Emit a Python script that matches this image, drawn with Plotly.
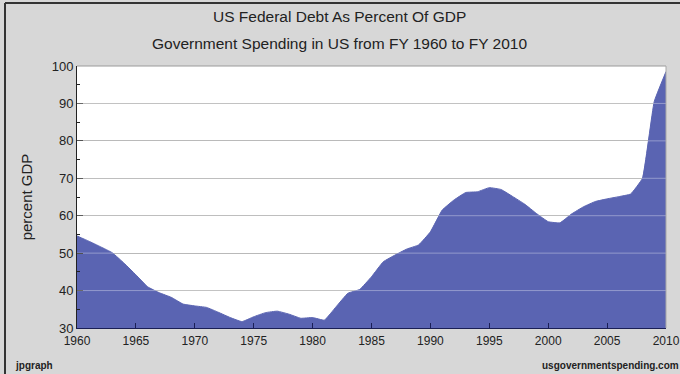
import plotly.graph_objects as go

# Gross federal debt as a share of GDP, fiscal years 1960-2010
years = list(range(1960, 2011))
debt_pct = [
    54.6, 53.2, 51.7, 50.1, 47.3, 44.2, 41.0, 39.4, 38.2, 36.4,
    35.9, 35.5, 34.2, 32.8, 31.7, 33.0, 34.1, 34.5, 33.7, 32.6,
    32.8, 32.1, 35.7, 39.3, 40.3, 43.7, 47.7, 49.5, 51.1, 52.2,
    55.7, 61.5, 64.2, 66.2, 66.4, 67.5, 67.0, 65.1, 63.1, 60.6,
    58.4, 58.1, 60.5, 62.4, 63.8, 64.5, 65.1, 65.8, 70.0, 90.5,
    98.5,
]

x_ticks = list(range(1960, 2011, 5))
y_ticks = list(range(30, 101, 10))

title_lines = ["US Federal Debt As Percent Of GDP",
               "Government Spending in US from FY 1960 to FY 2010"]

FILL = "#5a64b2"
BG = "#d7d7d7"
FONT = "Liberation Sans, Arial, sans-serif"

W, H = 680, 374
M = dict(l=77, r=14, t=66, b=46)
PW = W - M["l"] - M["r"]
PH = H - M["t"] - M["b"]


def px_x(p):
    """Horizontal page pixel -> paper fraction."""
    return (p - M["l"]) / PW


def px_y(p):
    """Vertical page pixel (from top) -> paper fraction."""
    return (H - M["b"] - p) / PH


fig = go.Figure()
fig.add_trace(go.Scatter(
    x=years, y=debt_pct, mode="lines",
    line=dict(color=FILL, width=1, shape="spline", smoothing=0.3),
    fill="tozeroy", fillcolor=FILL, hoverinfo="x+y",
))

shapes = []
# light overlay of the grid so it shows through the filled area
for v in y_ticks[1:-1]:
    shapes.append(dict(type="line", xref="paper", yref="y", x0=0, x1=1, y0=v, y1=v,
                       line=dict(color="rgba(255,255,255,0.35)", width=1), layer="above"))
# plot frame (top and right)
shapes.append(dict(type="line", xref="paper", yref="paper", x0=0, x1=1, y0=1, y1=1,
                   line=dict(color="#9a9a9a", width=1), layer="above"))
shapes.append(dict(type="line", xref="paper", yref="paper", x0=1, x1=1, y0=0, y1=1,
                   line=dict(color="#a8a8a8", width=1), layer="above"))
# outer figure border (left and top)
shapes.append(dict(type="line", xref="paper", yref="paper", x0=px_x(5), x1=px_x(5),
                   y0=px_y(H + 5), y1=px_y(3), line=dict(color="#333333", width=2), layer="above"))
shapes.append(dict(type="line", xref="paper", yref="paper", x0=px_x(5), x1=px_x(W + 5),
                   y0=px_y(3), y1=px_y(3), line=dict(color="#333333", width=2), layer="above"))

annotations = [
    dict(text=title_lines[0], xref="paper", yref="paper", x=px_x(339), y=px_y(17),
         xanchor="center", yanchor="middle", showarrow=False,
         font=dict(family=FONT, size=15.5, color="#222222")),
    dict(text=title_lines[1], xref="paper", yref="paper", x=px_x(339), y=px_y(43),
         xanchor="center", yanchor="middle", showarrow=False,
         font=dict(family=FONT, size=15.5, color="#222222")),
    dict(text="<b>jpgraph</b>", xref="paper", yref="paper", x=px_x(13), y=px_y(365),
         xanchor="left", yanchor="middle", showarrow=False,
         font=dict(family=FONT, size=10, color="#222222")),
    dict(text="<b>usgovernmentspending.com</b>", xref="paper", yref="paper", x=px_x(681), y=px_y(365),
         xanchor="right", yanchor="middle", showarrow=False,
         font=dict(family=FONT, size=10, color="#222222")),
]

fig.update_layout(
    width=W, height=H,
    margin=dict(**M, autoexpand=False),
    paper_bgcolor=BG, plot_bgcolor="white",
    showlegend=False,
    shapes=shapes, annotations=annotations,
    font=dict(family=FONT, size=13, color="#222222"),
    xaxis=dict(
        range=[1960, 2010], tickvals=x_ticks, ticktext=[str(t) for t in x_ticks],
        ticks="inside", ticklen=5, tickcolor="#1a1f55", tickwidth=1,
        showgrid=False, zeroline=False, automargin=False,
        showline=True, linecolor="#1a1f55", linewidth=1,
        ticklabelstandoff=2,
        tickfont=dict(family=FONT, size=12, color="#222222"),
    ),
    yaxis=dict(
        range=[30, 100], tickvals=y_ticks, ticktext=[str(t) for t in y_ticks],
        ticks="inside", ticklen=6, tickcolor="#222222",
        minor=dict(dtick=5, ticks="inside", ticklen=3, tickcolor="#222222", showgrid=False),
        showgrid=True, gridcolor="#a6a6a6", gridwidth=1,
        zeroline=False, showline=True, linecolor="#222222", linewidth=1,
        automargin=False,
        title=dict(text="percent GDP", standoff=15,
                   font=dict(family=FONT, size=15, color="#222222")),
        tickfont=dict(family=FONT, size=13, color="#222222"),
    ),
)

fig.write_html("out.html")
